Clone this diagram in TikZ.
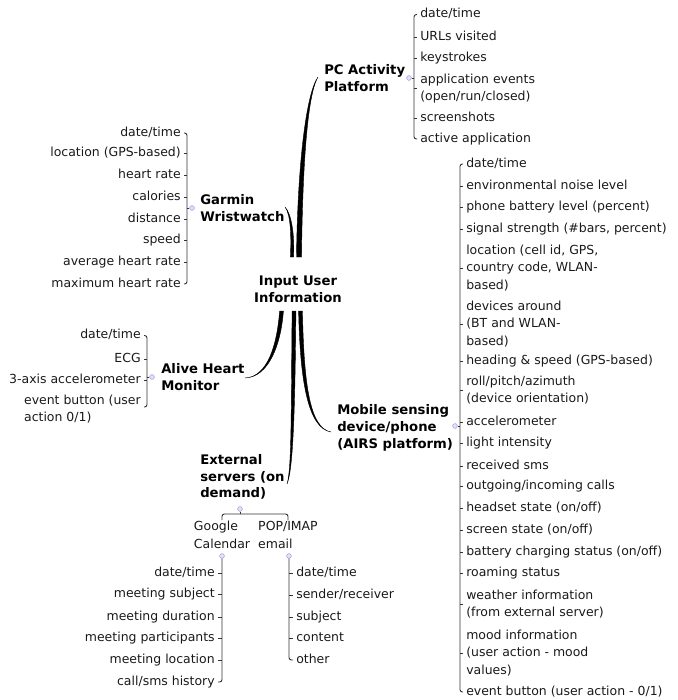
\documentclass[tikz,border=0pt]{standalone}
\usepackage{fontspec}
\setmainfont{DejaVu Sans}
\usetikzlibrary{calc}
\newcommand\itemfont{\fontsize{9.35}{13.1}\selectfont}
\newcommand\lblfont{\fontsize{9.9}{12.6}\selectfont\bfseries}
\newcommand\taperbranch[5]{%
  \filldraw[branch] ($(#1)+(-#5,0)$) .. controls ($(#2)+(-#5,0)$) and ($(#3)+(-0.25*#5,0)$) .. (#4)
    .. controls ($(#3)+(0.4*#5,0)$) and ($(#2)+(#5,0)$) .. ($(#1)+(#5,0)$) -- cycle;}
\begin{document}
\begin{tikzpicture}[x=0.75pt,y=-0.75pt,
  itm/.style={inner sep=0pt, font=\itemfont, text=black!90, text height=6.8pt, text depth=1.9pt},
  itmm/.style={inner sep=0pt, font=\itemfont, text=black!90, align=left},
  lbl/.style={inner sep=0pt, font=\lblfont, align=left},
  brk/.style={draw=black!80, line width=0.7pt, rounded corners=1.8pt},
  tick/.style={draw=black!80, line width=0.7pt},
  hub/.style={circle, inner sep=0pt, minimum size=3.6pt, fill=blue!12, draw=blue!35!gray!60, line width=0.35pt},
  branch/.style={fill=black, draw=black, line width=0.3pt, line join=round}]
\useasboundingbox (0,0) rectangle (678,700);

% ---------- centre ----------
\node[lbl, align=center] (root) at (298,289) {Input User\\Information};

% ---------- PC Activity Platform ----------
\node[lbl, anchor=west] (pc) at (324,78) {PC Activity\\Platform};
\node[hub] (pcd) at (409,78) {};
\coordinate (pcb) at (414,0);
\node[itm, anchor=west] (p1) at (420,14.5) {date/time};
\node[itm, anchor=west] (p2) at (420,37) {URLs visited};
\node[itm, anchor=west] (p3) at (420,58) {keystrokes};
\node[itmm, anchor=west] (p4) at (420,88.5) {application events\\(open/run/closed)};
\node[itm, anchor=west] (p5) at (420,118) {screenshots};
\node[itm, anchor=west] (p6) at (420,139) {active application};
\draw[brk] ($(p1.west)+(-3,0)$) -- (pcb |- p1.west) -- (pcb |- p6.west) -- ($(p6.west)+(-3,0)$);
\foreach \i in {2,...,5} \draw[tick] (pcb |- p\i.west) -- ++(3,0);
\draw[tick] (pcd.east) -- (pcb |- pcd);

% ---------- Garmin Wristwatch ----------
\node[lbl, anchor=west] (gw) at (200,208) {Garmin\\Wristwatch};
\node[hub] (gwd) at (192,208) {};
\coordinate (gwb) at (187,0);
\node[itm, anchor=east] (g1) at (181,133) {date/time};
\node[itm, anchor=east] (g2) at (181,153.5) {location (GPS-based)};
\node[itm, anchor=east] (g3) at (181,175) {heart rate};
\node[itm, anchor=east] (g4) at (181,197.5) {calories};
\node[itm, anchor=east] (g5) at (181,219) {distance};
\node[itm, anchor=east] (g6) at (181,240) {speed};
\node[itm, anchor=east] (g7) at (181,262) {average heart rate};
\node[itm, anchor=east] (g8) at (181,284) {maximum heart rate};
\draw[brk] ($(g1.east)+(3,0)$) -- (gwb |- g1.east) -- (gwb |- g8.east) -- ($(g8.east)+(3,0)$);
\foreach \i in {2,...,7} \draw[tick] (gwb |- g\i.east) -- ++(-3,0);
\draw[tick] (gwd.west) -- (gwb |- gwd);

% ---------- Alive Heart Monitor ----------
\node[lbl, anchor=west] (ah) at (161,377) {Alive Heart\\Monitor};
\node[hub] (ahd) at (152,377) {};
\coordinate (ahb) at (147,0);
\node[itm, anchor=east] (a1) at (141,335.5) {date/time};
\node[itm, anchor=east] (a2) at (141,359) {ECG};
\node[itm, anchor=east] (a3) at (141,380) {3-axis accelerometer};
\node[itmm, anchor=east] (a4) at (141,409) {event button (user\\action 0/1)};
\coordinate (a4t) at ($(a4.east)+(0,-2)$);
\draw[brk] ($(a1.east)+(3,0)$) -- (ahb |- a1.east) -- (ahb |- a4t) -- ($(a4t)+(3,0)$);
\foreach \i in {2,3} \draw[tick] (ahb |- a\i.east) -- ++(-3,0);
\draw[tick] (ahd.west) -- (ahb |- ahd);

% ---------- Mobile sensing device ----------
\node[lbl, anchor=west] (mb) at (337,428) {Mobile sensing\\device/phone\\(AIRS platform)};
\node[hub] (mbd) at (455,426) {};
\coordinate (mbb) at (460,0);
\node[itm, anchor=west] (m1) at (466,164) {date/time};
\node[itm, anchor=west] (m2) at (466,186) {environmental noise level};
\node[itm, anchor=west] (m3) at (466,207) {phone battery level (percent)};
\node[itm, anchor=west] (m4) at (466,229) {signal strength (\#bars, percent)};
\node[itmm, anchor=west] (m5) at (466,268) {location (cell id, GPS,\\country code, WLAN-\\based)};
\node[itmm, anchor=west] (m6) at (466,324) {devices around\\(BT and WLAN-\\based)};
\node[itm, anchor=west] (m7) at (466,361) {heading \& speed (GPS-based)};
\node[itmm, anchor=west] (m8) at (466,390) {roll/pitch/azimuth\\(device orientation)};
\node[itm, anchor=west] (m9) at (466,422) {accelerometer};
\node[itm, anchor=west] (m10) at (466,443) {light intensity};
\node[itm, anchor=west] (m11) at (466,466) {received sms};
\node[itm, anchor=west] (m12) at (466,486) {outgoing/incoming calls};
\node[itm, anchor=west] (m13) at (466,508) {headset state (on/off)};
\node[itm, anchor=west] (m14) at (466,530) {screen state (on/off)};
\node[itm, anchor=west] (m15) at (466,552) {battery charging status (on/off)};
\node[itm, anchor=west] (m16) at (466,573) {roaming status};
\node[itmm, anchor=west] (m17) at (466,604) {weather information\\(from external server)};
\node[itmm, anchor=west] (m18) at (466,653) {mood information\\(user action - mood\\values)};
\node[itm, anchor=west] (m19) at (466,692) {event button (user action - 0/1)};
\draw[brk] ($(m1.west)+(-3,0)$) -- (mbb |- m1.west) -- (mbb |- m19.west) -- ($(m19.west)+(-3,0)$);
\foreach \i in {2,...,18} \draw[tick] (mbb |- m\i.west) -- ++(3,0);
\draw[tick] (mbd.east) -- (mbb |- mbd);

% ---------- External servers ----------
\node[lbl, anchor=west] (ex) at (200,477) {External\\servers (on\\demand)};
\node[hub] (exd) at (240,509) {};
\coordinate (exb) at (0,514);
\node[itmm] (gc) at (222,535) {Google\\Calendar};
\node[itmm] (pm) at (288,535) {POP/IMAP\\email};
\draw[brk] ($(gc.north)+(0,-1)$) -- (gc.north |- exb) -- (pm.north |- exb) -- ($(pm.north)+(0,-1)$);
\draw[tick] (exd.south) -- (exd |- exb);

% Google Calendar list
\node[hub] (gcd) at (222,556) {};
\coordinate (gcb) at (222,0);
\node[itm, anchor=east] (c1) at (215,573) {date/time};
\node[itm, anchor=east] (c2) at (215,594.5) {meeting subject};
\node[itm, anchor=east] (c3) at (215,617) {meeting duration};
\node[itm, anchor=east] (c4) at (215,638) {meeting participants};
\node[itm, anchor=east] (c5) at (215,660) {meeting location};
\node[itm, anchor=east] (c6) at (215,682) {call/sms history};
\draw[brk] (gcd.south) -- (gcb |- c6.east) -- ($(c6.east)+(3,0)$);
\foreach \i in {1,...,5} \draw[tick] (gcb |- c\i.east) -- ++(-4,0);

% POP/IMAP list
\node[hub] (pmd) at (289,556) {};
\coordinate (pmb) at (289,0);
\node[itm, anchor=west] (e1) at (296,573) {date/time};
\node[itm, anchor=west] (e2) at (296,595) {sender/receiver};
\node[itm, anchor=west] (e3) at (296,617) {subject};
\node[itm, anchor=west] (e4) at (296,638) {content};
\node[itm, anchor=west] (e5) at (296,660) {other};
\draw[brk] (pmd.south) -- (pmb |- e5.west) -- ($(e5.west)+(-3,0)$);
\foreach \i in {1,...,4} \draw[tick] (pmb |- e\i.west) -- ++(4,0);

% ---------- tapered branches ----------
\coordinate (pcS) at (299,257);  \coordinate (pcT) at (318,77);
\coordinate (gwS) at (292,257);  \coordinate (gwT) at (285,207);
\coordinate (ahS) at (281.5,311);\coordinate (ahT) at (245,378);
\coordinate (exS) at (294,311);  \coordinate (exT) at (287,484);
\coordinate (mbS) at (300.5,311);\coordinate (mbT) at (331,432);
\taperbranch{pcS}{300,170}{306,95}{pcT}{2.5}
\taperbranch{gwS}{293,235}{291,214}{gwT}{1.6}
\taperbranch{ahS}{279,345}{268,377}{ahT}{1.9}
\taperbranch{exS}{293,420}{292,470}{exT}{1.9}
\taperbranch{mbS}{302,380}{308,428}{mbT}{1.9}
\end{tikzpicture}
\end{document}
